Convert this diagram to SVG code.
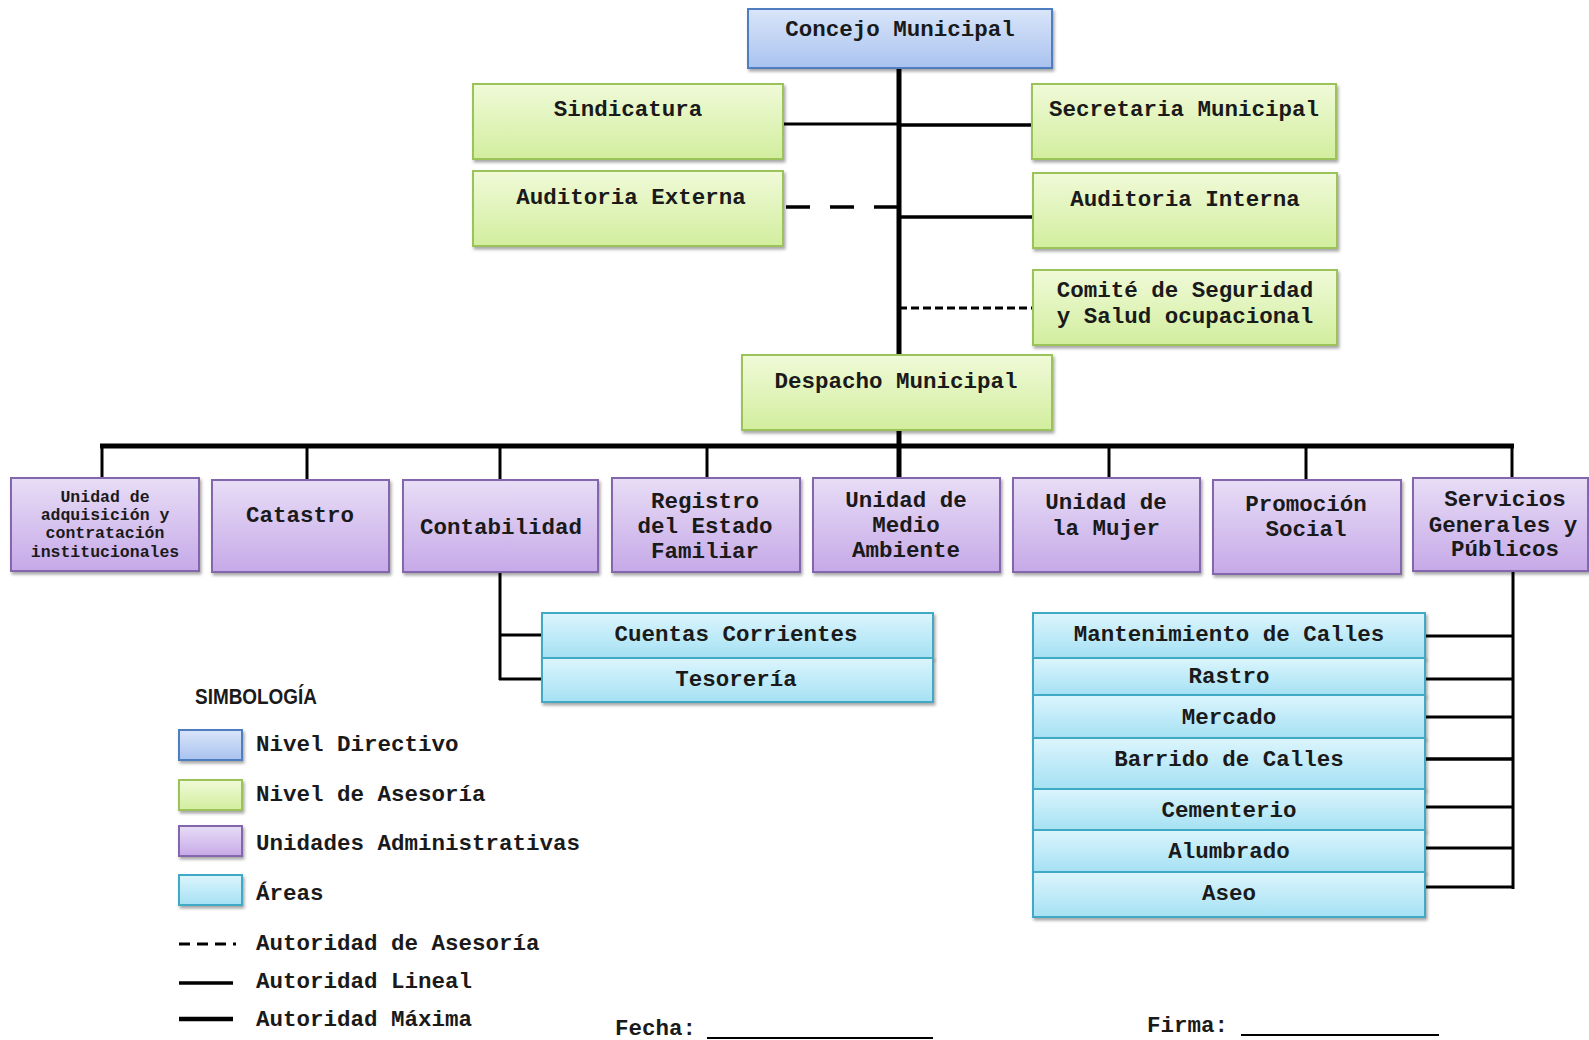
<svg xmlns="http://www.w3.org/2000/svg" width="1589" height="1040" viewBox="0 0 1589 1040">
<style>
.t{font-family:"Liberation Mono","Courier New",monospace;font-weight:bold;font-size:22.5px;fill:#1a1a1a;text-anchor:middle}
.s{font-size:16.5px}
.l{text-anchor:start}
.blue{fill:url(#gB);stroke:#4f7ec0;stroke-width:2}
.green{fill:url(#gG);stroke:#9cc35a;stroke-width:2}
.purple{fill:url(#gP);stroke:#8466ad;stroke-width:2}
.cyan{fill:url(#gC);stroke:#41a9c6;stroke-width:2}
.sh{filter:url(#ds)}
.ln{stroke:#000;fill:none}
</style>
<defs>
<linearGradient id="gB" x1="0" y1="0" x2="0" y2="1"><stop offset="0" stop-color="#d9e5f9"/><stop offset="1" stop-color="#a9c3ef"/></linearGradient>
<linearGradient id="gG" x1="0" y1="0" x2="0" y2="1"><stop offset="0" stop-color="#f0fad8"/><stop offset="1" stop-color="#d2ee9e"/></linearGradient>
<linearGradient id="gP" x1="0" y1="0" x2="0" y2="1"><stop offset="0" stop-color="#e8ddf6"/><stop offset="1" stop-color="#c6a9e8"/></linearGradient>
<linearGradient id="gC" x1="0" y1="0" x2="0" y2="1"><stop offset="0" stop-color="#dcf5fd"/><stop offset="1" stop-color="#a5e1f3"/></linearGradient>
<filter id="ds" x="-5%" y="-10%" width="115%" height="130%"><feDropShadow dx="1.5" dy="2.5" stdDeviation="1.5" flood-color="#000" flood-opacity="0.35"/></filter>
</defs>

<g id="connectors">
<line class="ln" x1="899" y1="68" x2="899" y2="356" stroke-width="5"/>
<line class="ln" x1="783" y1="124" x2="899" y2="124" stroke-width="3"/>
<line class="ln" x1="899" y1="125" x2="1033" y2="125" stroke-width="3.5"/>
<line class="ln" x1="786" y1="207" x2="899" y2="207" stroke-width="3.5" stroke-dasharray="24,20"/>
<line class="ln" x1="899" y1="217" x2="1033" y2="217" stroke-width="3.5"/>
<line class="ln" x1="899" y1="308" x2="1033" y2="308" stroke-width="3" stroke-dasharray="8,4"/>
<line class="ln" x1="899" y1="430" x2="899" y2="479" stroke-width="5"/>
<line class="ln" x1="100" y1="446" x2="1514" y2="446" stroke-width="5"/>
<line class="ln" x1="102" y1="446" x2="102" y2="479" stroke-width="3"/>
<line class="ln" x1="307" y1="446" x2="307" y2="480" stroke-width="3"/>
<line class="ln" x1="500" y1="446" x2="500" y2="480" stroke-width="3"/>
<line class="ln" x1="707" y1="446" x2="707" y2="479" stroke-width="3"/>
<line class="ln" x1="1109" y1="446" x2="1109" y2="479" stroke-width="3"/>
<line class="ln" x1="1306" y1="446" x2="1306" y2="481" stroke-width="3"/>
<line class="ln" x1="1512" y1="446" x2="1512" y2="479" stroke-width="3"/>
<line class="ln" x1="500" y1="572" x2="500" y2="680" stroke-width="3"/>
<line class="ln" x1="499" y1="635" x2="542" y2="635" stroke-width="3"/>
<line class="ln" x1="499" y1="679" x2="542" y2="679" stroke-width="3"/>
<line class="ln" x1="1513" y1="571" x2="1513" y2="889" stroke-width="3"/>
<line class="ln" x1="1425" y1="636" x2="1514" y2="636" stroke-width="3"/>
<line class="ln" x1="1425" y1="679" x2="1514" y2="679" stroke-width="3"/>
<line class="ln" x1="1425" y1="717" x2="1514" y2="717" stroke-width="3"/>
<line class="ln" x1="1425" y1="759" x2="1514" y2="759" stroke-width="3.5"/>
<line class="ln" x1="1425" y1="807" x2="1514" y2="807" stroke-width="3"/>
<line class="ln" x1="1425" y1="848" x2="1514" y2="848" stroke-width="3"/>
<line class="ln" x1="1425" y1="887" x2="1514" y2="887" stroke-width="3"/>
</g>

<g id="concejo"><rect class="blue sh" x="748" y="9" width="304" height="59"/><text class="t" x="900" y="36">Concejo Municipal</text></g>
<g id="sindicatura"><rect class="green sh" x="473" y="84" width="310" height="75"/><text class="t" x="628" y="116">Sindicatura</text></g>
<g id="secretaria"><rect class="green sh" x="1032" y="84" width="304" height="75"/><text class="t" x="1184" y="116">Secretaria Municipal</text></g>
<g id="auditoria-externa"><rect class="green sh" x="473" y="171" width="310" height="75"/><text class="t" x="631" y="204">Auditoria Externa</text></g>
<g id="auditoria-interna"><rect class="green sh" x="1033" y="173" width="304" height="75"/><text class="t" x="1185" y="206">Auditoria Interna</text></g>
<g id="comite"><rect class="green sh" x="1033" y="270" width="304" height="75"/><text class="t" x="1185" y="297">Comité de Seguridad</text><text class="t" x="1185" y="323">y Salud ocupacional</text></g>
<g id="despacho"><rect class="green sh" x="742" y="355" width="310" height="75"/><text class="t" x="896" y="388">Despacho Municipal</text></g>

<g id="adquisicion"><rect class="purple sh" x="11" y="478" width="188" height="93"/>
<text class="t s" x="105" y="502">Unidad de</text><text class="t s" x="105" y="520">adquisición y</text><text class="t s" x="105" y="538">contratación</text><text class="t s" x="105" y="557">institucionales</text></g>
<g id="catastro"><rect class="purple sh" x="212" y="480" width="177" height="92"/><text class="t" x="300" y="522">Catastro</text></g>
<g id="contabilidad"><rect class="purple sh" x="403" y="480" width="195" height="92"/><text class="t" x="501" y="534">Contabilidad</text></g>
<g id="registro"><rect class="purple sh" x="612" y="478" width="188" height="94"/><text class="t" x="705" y="508">Registro</text><text class="t" x="705" y="533">del Estado</text><text class="t" x="705" y="558">Familiar</text></g>
<g id="medio-ambiente"><rect class="purple sh" x="813" y="478" width="187" height="94"/><text class="t" x="906" y="507">Unidad de</text><text class="t" x="906" y="532">Medio</text><text class="t" x="906" y="557">Ambiente</text></g>
<g id="mujer"><rect class="purple sh" x="1013" y="478" width="187" height="94"/><text class="t" x="1106" y="509">Unidad de</text><text class="t" x="1106" y="535">la Mujer</text></g>
<g id="promocion"><rect class="purple sh" x="1213" y="480" width="188" height="94"/><text class="t" x="1306" y="511">Promoción</text><text class="t" x="1306" y="536">Social</text></g>
<g id="servicios"><rect class="purple sh" x="1413" y="478" width="175" height="93"/><text class="t" x="1505" y="506">Servicios</text><text class="t" x="1503" y="532">Generales y</text><text class="t" x="1505" y="556">Públicos</text></g>

<g id="cuentas"><rect class="cyan sh" x="542" y="613" width="391" height="45"/><text class="t" x="736" y="641">Cuentas Corrientes</text></g>
<g id="tesoreria"><rect class="cyan sh" x="542" y="658" width="391" height="44"/><text class="t" x="736" y="686">Tesorería</text></g>

<g id="mantenimiento"><rect class="cyan sh" x="1033" y="613" width="392" height="45"/><text class="t" x="1229" y="641">Mantenimiento de Calles</text></g>
<g id="rastro"><rect class="cyan sh" x="1033" y="658" width="392" height="37"/><text class="t" x="1229" y="683">Rastro</text></g>
<g id="mercado"><rect class="cyan sh" x="1033" y="695" width="392" height="43"/><text class="t" x="1229" y="724">Mercado</text></g>
<g id="barrido"><rect class="cyan sh" x="1033" y="738" width="392" height="51"/><text class="t" x="1229" y="766">Barrido de Calles</text></g>
<g id="cementerio"><rect class="cyan sh" x="1033" y="789" width="392" height="41"/><text class="t" x="1229" y="817">Cementerio</text></g>
<g id="alumbrado"><rect class="cyan sh" x="1033" y="830" width="392" height="42"/><text class="t" x="1229" y="858">Alumbrado</text></g>
<g id="aseo"><rect class="cyan sh" x="1033" y="872" width="392" height="45"/><text class="t" x="1229" y="900">Aseo</text></g>

<g id="legend">
<text x="195" y="704" font-family="Liberation Sans,Arial,sans-serif" font-weight="bold" font-size="22" fill="#1a1a1a" textLength="122" lengthAdjust="spacingAndGlyphs">SIMBOLOGÍA</text>
<rect class="blue sh" x="179" y="730" width="63" height="30"/>
<rect class="green sh" x="179" y="780" width="63" height="30"/>
<rect class="purple sh" x="179" y="826" width="63" height="30"/>
<rect class="cyan sh" x="179" y="875" width="63" height="30"/>
<text class="t l" x="256" y="751">Nivel Directivo</text>
<text class="t l" x="256" y="801">Nivel de Asesoría</text>
<text class="t l" x="256" y="850">Unidades Administrativas</text>
<text class="t l" x="256" y="900">Áreas</text>
<line class="ln" x1="179" y1="944" x2="236" y2="944" stroke-width="3" stroke-dasharray="11,7"/>
<text class="t l" x="256" y="950">Autoridad de Asesoría</text>
<line class="ln" x1="179" y1="983" x2="233" y2="983" stroke-width="3.5"/>
<text class="t l" x="256" y="988">Autoridad Lineal</text>
<line class="ln" x1="179" y1="1019" x2="233" y2="1019" stroke-width="4.5"/>
<text class="t l" x="256" y="1026">Autoridad Máxima</text>
</g>

<g id="firmas">
<text class="t l" x="615" y="1035">Fecha:</text>
<line class="ln" x1="707" y1="1038" x2="933" y2="1038" stroke-width="2"/>
<text class="t l" x="1147" y="1032">Firma:</text>
<line class="ln" x1="1241" y1="1035" x2="1439" y2="1035" stroke-width="2"/>
</g>
</svg>
